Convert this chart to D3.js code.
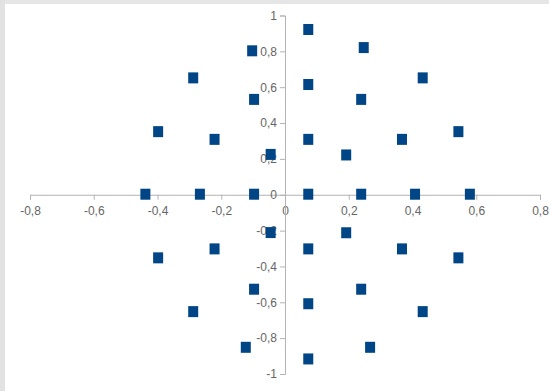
<!DOCTYPE html>
<html>
<head>
<meta charset="utf-8">
<script src="https://cdn.jsdelivr.net/npm/d3@7"></script>
<style>
  body { margin: 0; background: #fff; }
  svg { display: block; }
</style>
</head>
<body>
<svg id="chart" width="549" height="391"></svg>
<script>
// Data
var xValues = [0.073, 0.247, -0.103, -0.288, 0.432, 0.073, -0.097, 0.239,
               -0.398, 0.544, -0.221, 0.073, 0.367, -0.045, 0.192,
               -0.438, -0.267, -0.097, 0.073, 0.239, 0.408, 0.580,
               -0.045, 0.192, -0.221, 0.073, 0.367, -0.398, 0.544,
               -0.097, 0.239, 0.073, -0.288, 0.432, -0.123, 0.267, 0.073];
var yValues = [0.922, 0.821, 0.803, 0.652, 0.652, 0.615, 0.532, 0.532,
               0.352, 0.352, 0.309, 0.309, 0.309, 0.225, 0.222,
               0.003, 0.003, 0.003, 0.003, 0.003, 0.003, 0.003,
               -0.211, -0.212, -0.302, -0.302, -0.302, -0.352, -0.352,
               -0.527, -0.527, -0.608, -0.652, -0.652, -0.851, -0.851, -0.916];
var xTicks = [-0.8, -0.6, -0.4, -0.2, 0, 0.2, 0.4, 0.6, 0.8];
var yTicks = [-1, -0.8, -0.6, -0.4, -0.2, 0, 0.2, 0.4, 0.6, 0.8, 1];

var svg = d3.select("#chart"),
    width = 549,
    height = 391;

var fmt = function(d) { return d === 0 ? "0" : String(d).replace(".", ","); };

// screenshot frame edges
svg.append("rect").attr("x", 0).attr("y", 0).attr("width", width).attr("height", 4).attr("fill", "#e6e6e6");
svg.append("rect").attr("x", 0).attr("y", 0).attr("width", 5).attr("height", height).attr("fill", "#e2e2e2");

var x = d3.scaleLinear().domain([-0.8, 0.8]).range([30, 540]);
var y = d3.scaleLinear().domain([-1, 1]).range([374, 15.5]);

var axisColor = "#b3b3b3",
    textColor = "#666666";

// X axis through y = 0
var gx = svg.append("g")
    .attr("transform", "translate(0," + y(0) + ")")
    .call(d3.axisBottom(x).tickValues(xTicks).tickFormat(fmt).tickSizeOuter(0).tickSize(5).tickPadding(7));

// Y axis through x = 0
var gy = svg.append("g")
    .attr("transform", "translate(" + x(0) + ",0)")
    .call(d3.axisLeft(y).tickValues(yTicks).tickFormat(fmt).tickSizeOuter(0).tickSize(5).tickPadding(3));

[gx, gy].forEach(function(g) {
  g.select(".domain").attr("stroke", axisColor);
  g.selectAll(".tick line").attr("stroke", axisColor);
  g.selectAll(".tick text")
      .attr("fill", textColor)
      .attr("font-family", "'Liberation Sans', Arial, sans-serif")
      .attr("font-size", 12);
});

// points
var size = 10;
svg.append("g").selectAll("rect")
  .data(d3.range(xValues.length))
  .join("rect")
    .attr("x", function(i) { return x(xValues[i]) - size / 2; })
    .attr("y", function(i) { return y(yValues[i]) - size / 2 - 0.5; })
    .attr("width", size)
    .attr("height", size + 1)
    .attr("fill", "#004586");
</script>
</body>
</html>
